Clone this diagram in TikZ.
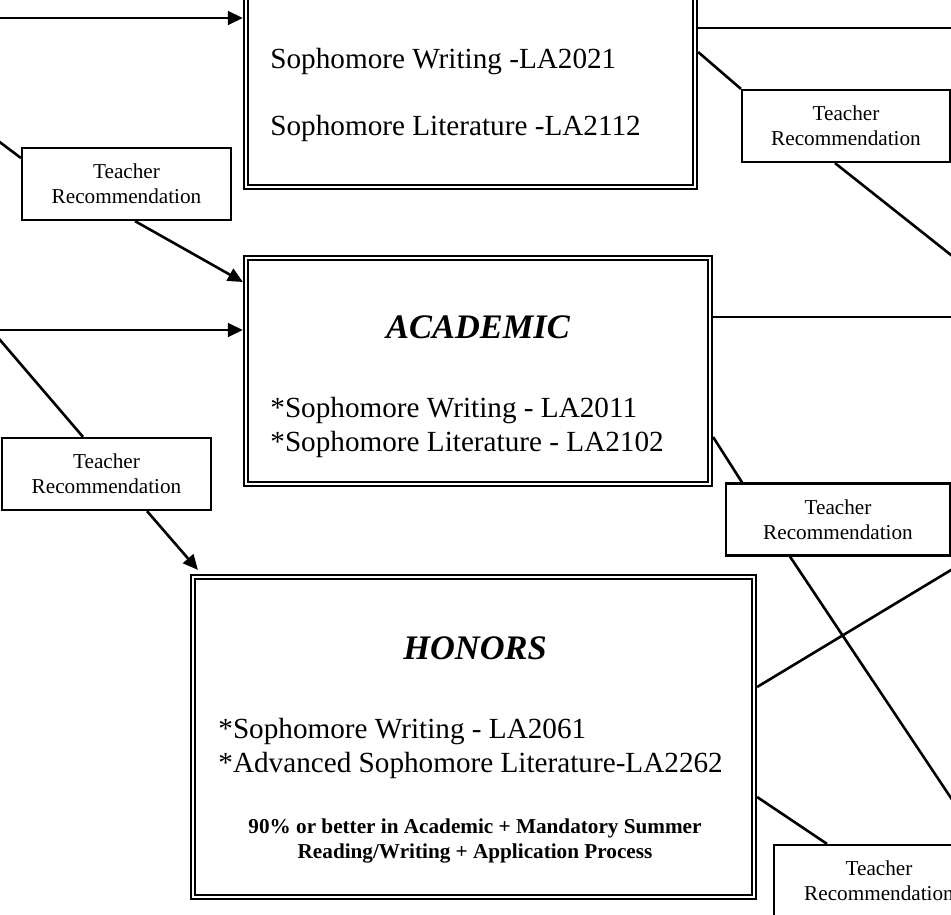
\documentclass[tikz,border=0pt]{standalone}
\usepackage{fontspec}
\setmainfont{Liberation Serif}
\usetikzlibrary{arrows.meta}
\tikzset{
  tier/.style={draw, double, line width=1.1pt, double distance=0.8pt, outer sep=1.5pt, inner sep=0pt},
  rec/.style={draw, line width=1.1pt, minimum height=36pt, inner sep=0pt, align=center, font=\fontsize{10.6}{12.3}\selectfont},
  course/.style={anchor=base west, inner sep=0pt, font=\fontsize{14.6}{17}\selectfont},
  tiername/.style={anchor=base, inner sep=0pt, font=\fontsize{17.2}{20}\selectfont\bfseries\itshape},
  rule/.style={anchor=base, inner sep=0pt, font=\fontsize{10.6}{12.3}\selectfont\bfseries},
  link/.style={line width=1.3pt},
  >={Triangle[length=7.5pt,width=6.8pt]}
}
\begin{document}
\begin{tikzpicture}[x=0.5pt,y=-0.5pt]
\useasboundingbox (0,0) rectangle (951,914);
\clip (0,0) rectangle (951,914);
% course boxes
\node[tier, minimum width=224.6pt, minimum height=150pt, anchor=south] (upper) at (470.5,190) {};
\node[tier, minimum width=232.1pt, minimum height=113.1pt] (academic) at (478,371) {};
\node[tier, minimum width=280.6pt, minimum height=160.1pt] (honors) at (473.5,737) {};
\node[course] (upw) at (270,69) {Sophomore Writing -LA2021};
\node[course] (upl) at (270,136) {Sophomore Literature -LA2112};
\node[tiername] (acname) at (478,338) {ACADEMIC};
\node[course] (acw) at (270,417) {*Sophomore Writing - LA2011};
\node[course] (acl) at (270,451) {*Sophomore Literature - LA2102};
\node[tiername] (honame) at (475,659) {HONORS};
\node[course] (how) at (218,738) {*Sophomore Writing - LA2061};
\node[course] (hol) at (218,772) {*Advanced Sophomore Literature-LA2262};
\node[rule] (hor1) at (475,833) {90\% or better in Academic + Mandatory Summer};
\node[rule] (hor2) at (475,858) {Reading/Writing + Application Process};
% teacher recommendation boxes
\foreach \n/\x/\y/\w in {recA/126.5/184/104.5, recB/846/126/104, recC/106.5/474/104.5, recD/838/519.5/112, recE/879/881/105}
  \node[rec, minimum width=\w pt] (\n) at (\x,\y) {Teacher\\Recommendation};
\coordinate (inA) at (-5,18);
\coordinate (inB) at (-5,138.5);
\coordinate (inC) at (-5,330);
\coordinate (inD) at (-4,335.3);
\coordinate (outA) at (956,28);
\coordinate (outB) at (956,259);
\coordinate (outC) at (956,317);
\coordinate (outD) at (956,805.5);
\coordinate (outE) at (956,567);
\draw[link,->] (inA) -- (upper.west |- inA);
\draw[link] (inB) -- (recA.west |- 0,158);
\draw[link,->] (recA.south -| 135,0) -- (academic.west |- 0,282);
\draw[link,->] (inC) -- (academic.west |- inC);
\draw[link] (inD) -- (recC.north -| 83,0);
\draw[link,->] (recC.south -| 147,0) -- ([xshift=4pt,yshift=2pt]honors.north west);
\draw[link] (upper.east |- outA) -- (outA);
\draw[link] (upper.east |- 0,52) -- (recB.north west);
\draw[link] (recB.south -| 835,0) -- (outB);
\draw[link] (academic.east |- outC) -- (outC);
\draw[link] (academic.east |- 0,437) -- (recD.north -| 742,0);
\draw[link] (recD.south -| 790,0) -- (outD);
\draw[link] (outE) -- (honors.east |- 0,687);
\draw[link] (honors.east |- 0,797) -- (recE.north -| 827,0);
\end{tikzpicture}
\end{document}
